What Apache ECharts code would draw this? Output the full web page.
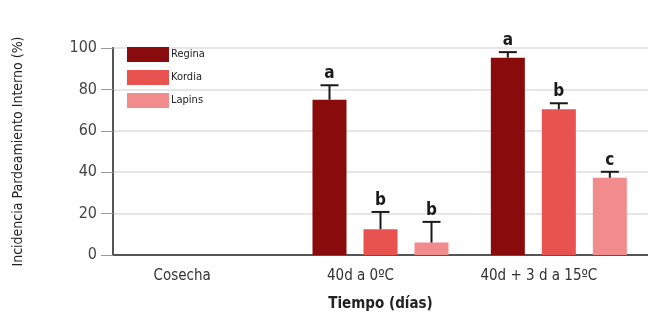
<!DOCTYPE html>
<html>
<head>
<meta charset="utf-8">
<script src="https://cdn.jsdelivr.net/npm/echarts@6/dist/echarts.min.js"></script>
<style>
  html, body { margin: 0; padding: 0; background: #fff; }
  #chart { width: 648px; height: 317px; }
</style>
</head>
<body>
<div id="chart"></div>
<script>
// data
const categories = ['Cosecha', '40d a 0ºC', '40d + 3 d a 15ºC'];
const seriesNames = ['Regina', 'Kordia', 'Lapins'];
const regina = [null, 75, 95.3];
const kordia = [null, 12.5, 70.4];
const lapins = [null, 6, 37.3];
// top of error bars
const reginaErr = [null, 82, 98];
const kordiaErr = [null, 20.8, 73.3];
const lapinsErr = [null, 16, 40.2];
// letters of significance
const reginaLetters = ['', 'a', 'a'];
const kordiaLetters = ['', 'b', 'b'];
const lapinsLetters = ['', 'b', 'c'];
const yTicks = [0, 20, 40, 60, 80, 100];

const colors = ['#8a0b0b', '#e8524f', '#f28b8b'];
const font = '"DejaVu Sans Condensed", "Liberation Sans Narrow", sans-serif';
const barWidth = 34;
const step = 51; // bar width + gap

var chartDom = document.getElementById('chart');
var myChart = echarts.init(chartDom);

const values = [regina, kordia, lapins];
const errs = [reginaErr, kordiaErr, lapinsErr];
const letters = [reginaLetters, kordiaLetters, lapinsLetters];

// error bars and letters in one custom series per cultivar
function errSeries(idx) {
    const data = [];
    categories.forEach((c, i) => {
        if (values[idx][i] != null) data.push([i, values[idx][i], errs[idx][i]]);
    });
    return {
        type: 'custom',
        name: seriesNames[idx] + ' err',
        z: 10,
        data: data,
        renderItem: function (params, api) {
            const base = api.coord([api.value(0), api.value(1)]);
            const top = api.coord([api.value(0), api.value(2)]);
            const x = base[0] + (idx - 1) * step;
            const stroke = { stroke: '#1a1a1a', lineWidth: 2 };
            return {
                type: 'group',
                children: [
                    { type: 'line', shape: { x1: x, y1: base[1], x2: x, y2: top[1] }, style: stroke },
                    { type: 'line', shape: { x1: x - 9, y1: top[1], x2: x + 9, y2: top[1] }, style: stroke },
                    {
                        type: 'text',
                        style: {
                            text: letters[idx][api.value(0)],
                            x: x, y: top[1] - 3,
                            align: 'center', verticalAlign: 'bottom',
                            font: 'bold 17px ' + font, fill: '#1a1a1a'
                        }
                    }
                ]
            };
        }
    };
}

var option = {
    animation: false,
    grid: { left: 113, right: 0, top: 48, bottom: 62 },
    legend: {
        data: seriesNames,
        orient: 'vertical',
        left: 122, top: 42,
        icon: 'rect',
        itemWidth: 42, itemHeight: 15, itemGap: 8,
        textStyle: { fontFamily: font, fontSize: 11, color: '#222', padding: [0, 0, 0, -3] }
    },
    xAxis: {
        type: 'category',
        data: categories,
        name: 'Tiempo (días)',
        nameLocation: 'middle',
        nameGap: 42,
        nameTextStyle: { fontFamily: font, fontSize: 15, fontWeight: 'bold', color: '#222' },
        axisLine: { lineStyle: { color: '#555', width: 2 } },
        axisTick: { show: false },
        axisLabel: { fontFamily: font, fontSize: 15, color: '#333', margin: 14, padding: [0, 40, 0, 0] }
    },
    yAxis: {
        type: 'value',
        min: 0, max: 100, interval: 20,
        name: 'Incidencia Pardeamiento Interno (%)',
        nameLocation: 'middle',
        nameGap: 88,
        nameTextStyle: { fontFamily: font, fontSize: 14, color: '#222' },
        axisLine: { show: true, onZero: false, lineStyle: { color: '#555', width: 2 } },
        axisTick: { show: true, length: 12, lineStyle: { color: '#999' } },
        axisLabel: {
            fontFamily: font, fontSize: 16, color: '#444', margin: 16,
            formatter: v => yTicks.includes(v) ? String(v) : ''
        },
        splitLine: { lineStyle: { color: '#e6e6e6', width: 2 } }
    },
    series: [
        { name: 'Regina', type: 'bar', data: regina, barWidth: barWidth, barGap: '50%', itemStyle: { color: colors[0] } },
        { name: 'Kordia', type: 'bar', data: kordia, barWidth: barWidth, barGap: '50%', itemStyle: { color: colors[1] } },
        { name: 'Lapins', type: 'bar', data: lapins, barWidth: barWidth, barGap: '50%', itemStyle: { color: colors[2] } },
        errSeries(0), errSeries(1), errSeries(2)
    ]
};
myChart.setOption(option);
</script>
</body>
</html>
